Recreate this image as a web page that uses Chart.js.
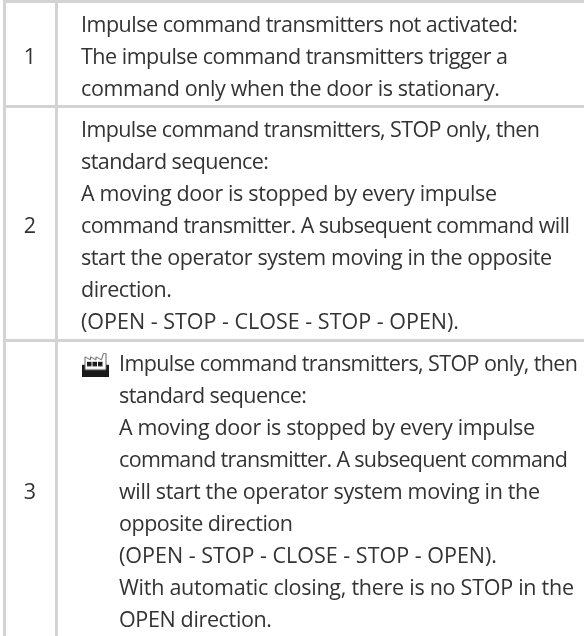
<!DOCTYPE html>
<html lang="en">
<head>
<meta charset="UTF-8" />
<title>Impulse command transmitters</title>
<script src="https://cdn.jsdelivr.net/npm/chart.js"></script>
<style>
  html, body { margin: 0; padding: 0; background: #fff; overflow: hidden; }
  canvas { display: block; }
</style>
</head>
<body>
<canvas id="tableChart" width="584" height="636"></canvas>
<script>
  const rowNumbers = ['1', '2', '3'];
  const rowLines = [
    [
      'Impulse command transmitters not activated:',
      'The impulse command transmitters trigger a',
      'command only when the door is stationary.'
    ],
    [
      'Impulse command transmitters, STOP only, then',
      'standard sequence:',
      'A moving door is stopped by every impulse',
      'command transmitter. A subsequent command will',
      'start the operator system moving in the opposite',
      'direction.',
      '(OPEN - STOP - CLOSE - STOP - OPEN).'
    ],
    [
      'Impulse command transmitters, STOP only, then',
      'standard sequence:',
      'A moving door is stopped by every impulse',
      'command transmitter. A subsequent command',
      'will start the operator system moving in the',
      'opposite direction',
      '(OPEN - STOP - CLOSE - STOP - OPEN).',
      'With automatic closing, there is no STOP in the',
      'OPEN direction.'
    ]
  ];
  const rowsWithIcon = ['3'];

  // y axis counts text lines, x axis is pixels across the table
  const linePx = 32;
  const rowPads = [0.27, 0.32, 0.3];
  const topOffset = 0.06;
  const baselineOffset = 0.95;
  const colLeft = 4, colSplit = 56.5, numberX = 30, textX = 81, indentX = 119, iconX = 95.5;
  // right end of each text line, the substitute font runs at a different width
  const lineEnds = [
    [518, 508, 500],
    [540, 269, 497, 570, 552, 172, 459],
    [578, 307, 535, 568, 540, 293, 497, 574, 272]
  ];

  const rowTops = [];
  let cursor = 0;
  rowLines.forEach((lines, i) => { rowTops.push(cursor); cursor += lines.length + rowPads[i]; });

  const numberPoints = rowLines.map((lines, i) => ({
    x: numberX, y: rowTops[i] + baselineOffset + Math.floor(lines.length / 2), label: rowNumbers[i]
  }));
  const textPoints = [];
  rowLines.forEach((lines, i) => {
    const indent = rowsWithIcon.includes(rowNumbers[i]);
    lines.forEach((line, j) => {
      textPoints.push({ x: indent ? indentX : textX, y: rowTops[i] + baselineOffset + j, label: line, end: lineEnds[i][j] });
    });
  });
  const iconPoints = rowLines.flatMap((lines, i) => rowsWithIcon.includes(rowNumbers[i])
    ? [{ x: iconX, y: rowTops[i] + 0.75 }] : []);

  function factoryIcon() {
    const c = document.createElement('canvas');
    c.width = 27; c.height = 24;
    const g = c.getContext('2d');
    // black tray under the building
    g.fillStyle = '#1a1a1a';
    g.fillRect(0, 12, 27, 12);
    // building with saw-tooth roof and chimney
    g.fillStyle = '#fff';
    g.strokeStyle = '#666';
    g.lineWidth = 1;
    g.beginPath();
    g.moveTo(3, 17); g.lineTo(3, 4); g.lineTo(8.5, 7); g.lineTo(8.5, 4); g.lineTo(14, 7);
    g.lineTo(14, 4); g.lineTo(19.5, 7); g.lineTo(21.5, 0.5); g.lineTo(24, 0.5); g.lineTo(24, 17);
    g.closePath();
    g.fill();
    g.stroke();
    g.fillStyle = '#1a1a1a';
    [5, 10.5, 16].forEach(x => g.fillRect(x, 9, 4.5, 4.5));
    return c;
  }

  const textPlugin = {
    id: 'rowText',
    afterDatasetsDraw(chart) {
      const ctx = chart.ctx;
      ctx.save();
      ctx.fillStyle = '#333';
      ctx.textBaseline = 'alphabetic';
      ctx.font = '21.5px "Open Sans"';
      ctx.textAlign = 'center';
      chart.getDatasetMeta(0).data.forEach((pt, i) => {
        ctx.fillText(numberPoints[i].label, pt.x, pt.y);
      });
      ctx.textAlign = 'left';
      chart.getDatasetMeta(1).data.forEach((pt, i) => {
        const item = textPoints[i];
        ctx.letterSpacing = '0px';
        const spare = item.end - pt.x - ctx.measureText(item.label).width;
        ctx.letterSpacing = (spare / (item.label.length - 1)).toFixed(3) + 'px';
        ctx.fillText(item.label, pt.x, pt.y);
      });
      ctx.restore();
    }
  };

  new Chart(document.getElementById('tableChart').getContext('2d'), {
    type: 'scatter',
    data: {
      datasets: [
        { data: numberPoints, pointRadius: 0 },
        { data: textPoints, pointRadius: 0 },
        { data: iconPoints, pointStyle: factoryIcon() }
      ]
    },
    options: {
      responsive: false,
      animation: false,
      layout: { padding: { left: 3 }, autoPadding: false },
      plugins: { legend: { display: false }, tooltip: { enabled: false } },
      scales: {
        x: {
          type: 'linear', min: 3, max: 584,
          border: { display: false },
          ticks: { display: false },
          afterBuildTicks: s => { s.ticks = [{ value: colLeft }, { value: colSplit }]; },
          grid: { color: '#d3d3d3', lineWidth: 3, drawTicks: false }
        },
        y: {
          type: 'linear', reverse: true,
          min: -topOffset, max: 636 / linePx - topOffset,
          border: { display: false },
          ticks: { display: false },
          afterBuildTicks: s => { s.ticks = rowTops.map(v => ({ value: v })); },
          grid: { color: '#d3d3d3', lineWidth: 3, drawTicks: false }
        }
      }
    },
    plugins: [textPlugin]
  });
</script>
</body>
</html>
